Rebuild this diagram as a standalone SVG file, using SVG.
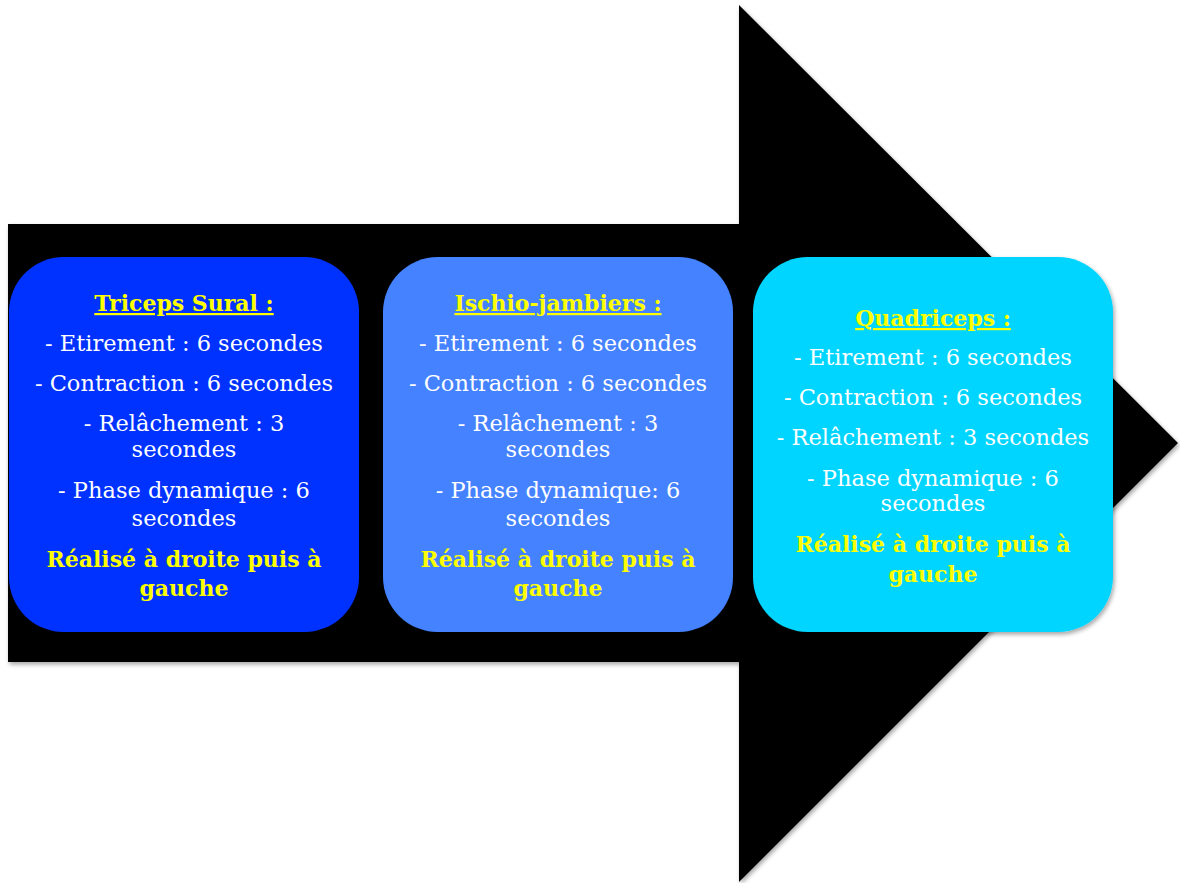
<svg xmlns="http://www.w3.org/2000/svg" width="1180" height="883" viewBox="0 0 1180 883">
<defs>
<filter id="sh" x="-5%" y="-5%" width="110%" height="110%">
<feDropShadow dx="1.5" dy="2.5" stdDeviation="2" flood-color="#000" flood-opacity="0.35"/>
</filter>
<style>
.t{font-family:"DejaVu Serif","Liberation Serif",serif;font-size:22.5px;fill:#fff;text-anchor:middle}
.h{font-family:"DejaVu Serif","Liberation Serif",serif;font-size:22px;font-weight:bold;fill:#ffff00;text-anchor:middle}
.u{text-decoration:underline}
</style>
</defs>
<rect width="1180" height="883" fill="#fff"/>
<g id="arrow">
<polygon points="8,224 739,224 739,5 1178,443 739,882 739,662 8,662" fill="#000" filter="url(#sh)"/>
</g>
<g id="node-triceps">
<rect x="9" y="257" width="350" height="375" rx="55" ry="55" fill="#0433ff" filter="url(#sh)"/>
<text class="h u" x="184" y="311">Triceps Sural :</text>
<text class="t" x="184" y="351">- Etirement : 6 secondes</text>
<text class="t" x="184" y="391">- Contraction : 6 secondes</text>
<text class="t" x="184" y="431">- Relâchement : 3</text>
<text class="t" x="184" y="457">secondes</text>
<text class="t" x="184" y="498">- Phase dynamique : 6</text>
<text class="t" x="184" y="526">secondes</text>
<text class="h" x="184" y="567">Réalisé à droite puis à</text>
<text class="h" x="184" y="596">gauche</text>
</g>
<g id="node-ischio">
<rect x="383" y="257" width="350" height="375" rx="55" ry="55" fill="#4482ff" filter="url(#sh)"/>
<text class="h u" x="558" y="311">Ischio-jambiers :</text>
<text class="t" x="558" y="351">- Etirement : 6 secondes</text>
<text class="t" x="558" y="391">- Contraction : 6 secondes</text>
<text class="t" x="558" y="431">- Relâchement : 3</text>
<text class="t" x="558" y="457">secondes</text>
<text class="t" x="558" y="498">- Phase dynamique: 6</text>
<text class="t" x="558" y="526">secondes</text>
<text class="h" x="558" y="567">Réalisé à droite puis à</text>
<text class="h" x="558" y="596">gauche</text>
</g>
<g id="node-quadriceps">
<rect x="753" y="257" width="360" height="375" rx="55" ry="55" fill="#00d5ff" filter="url(#sh)"/>
<text class="h u" x="933" y="326">Quadriceps :</text>
<text class="t" x="933" y="365">- Etirement : 6 secondes</text>
<text class="t" x="933" y="405">- Contraction : 6 secondes</text>
<text class="t" x="933" y="445">- Relâchement : 3 secondes</text>
<text class="t" x="933" y="486">- Phase dynamique : 6</text>
<text class="t" x="933" y="511">secondes</text>
<text class="h" x="933" y="552">Réalisé à droite puis à</text>
<text class="h" x="933" y="582">gauche</text>
</g>
<g id="connectors"/>
</svg>
